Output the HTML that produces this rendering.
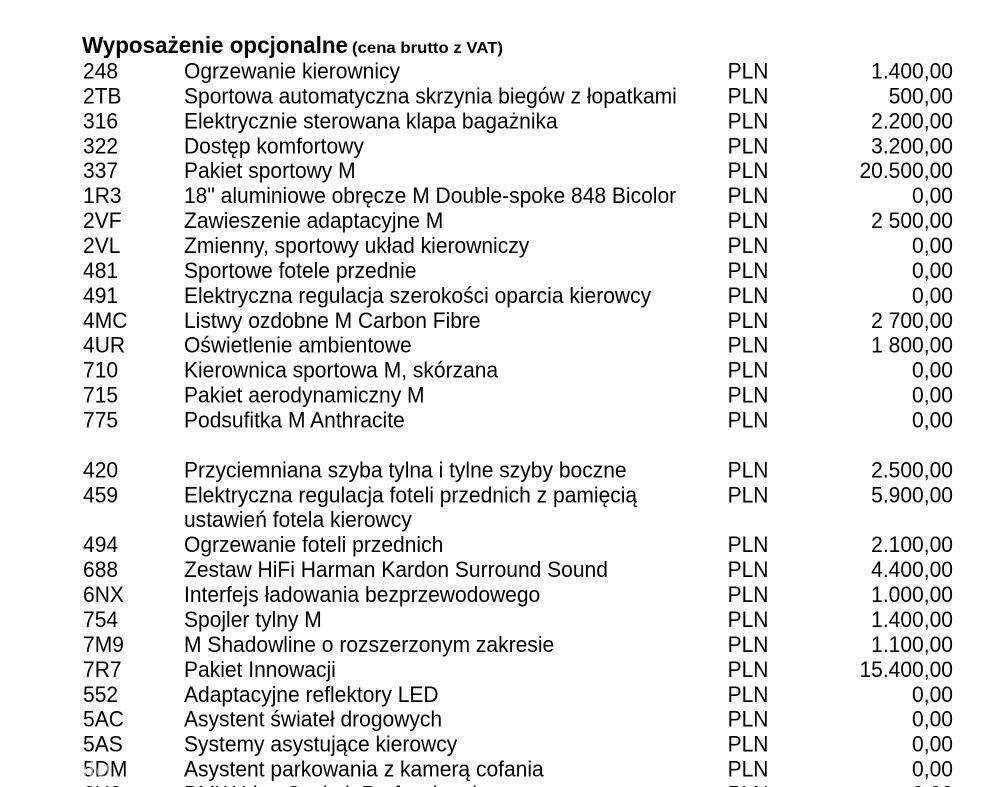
<!DOCTYPE html>
<html>
<head>
<meta charset="utf-8">
<style>
html,body{margin:0;padding:0;background:#fff;}
body{width:1000px;height:787px;overflow:hidden;}
svg{display:block;}
text{font-family:"Liberation Sans",Arial,sans-serif;fill:#000;}
.r{font-size:22.5px;}
.a{text-anchor:end;}
</style>
</head>
<body>
<svg width="1000" height="787" viewBox="0 0 1000 787" xmlns="http://www.w3.org/2000/svg">
<rect width="1000" height="787" fill="#fff"/>
<text x="82" y="53" font-size="23" font-weight="bold" textLength="266" lengthAdjust="spacingAndGlyphs">Wyposażenie opcjonalne</text>
<text x="352" y="53" font-size="16" font-weight="bold" textLength="151" lengthAdjust="spacingAndGlyphs">(cena brutto z VAT)</text>
<g transform="scale(0.934,1)" class="r">
<text x="88.9" y="78.5">248</text><text x="197.0" y="78.5">Ogrzewanie kierownicy</text><text x="779.0" y="78.5">PLN</text><text class="a" x="1020.3" y="78.5">1.400,00</text>
<text x="88.9" y="103.4">2TB</text><text x="197.0" y="103.4">Sportowa automatyczna skrzynia biegów z łopatkami</text><text x="779.0" y="103.4">PLN</text><text class="a" x="1020.3" y="103.4">500,00</text>
<text x="88.9" y="128.4">316</text><text x="197.0" y="128.4">Elektrycznie sterowana klapa bagażnika</text><text x="779.0" y="128.4">PLN</text><text class="a" x="1020.3" y="128.4">2.200,00</text>
<text x="88.9" y="153.3">322</text><text x="197.0" y="153.3">Dostęp komfortowy</text><text x="779.0" y="153.3">PLN</text><text class="a" x="1020.3" y="153.3">3.200,00</text>
<text x="88.9" y="178.2">337</text><text x="197.0" y="178.2">Pakiet sportowy M</text><text x="779.0" y="178.2">PLN</text><text class="a" x="1020.3" y="178.2">20.500,00</text>
<text x="88.9" y="203.2">1R3</text><text x="197.0" y="203.2">18" aluminiowe obręcze M Double-spoke 848 Bicolor</text><text x="779.0" y="203.2">PLN</text><text class="a" x="1020.3" y="203.2">0,00</text>
<text x="88.9" y="228.1">2VF</text><text x="197.0" y="228.1">Zawieszenie adaptacyjne M</text><text x="779.0" y="228.1">PLN</text><text class="a" x="1020.3" y="228.1">2 500,00</text>
<text x="88.9" y="253.0">2VL</text><text x="197.0" y="253.0">Zmienny, sportowy układ kierowniczy</text><text x="779.0" y="253.0">PLN</text><text class="a" x="1020.3" y="253.0">0,00</text>
<text x="88.9" y="277.9">481</text><text x="197.0" y="277.9">Sportowe fotele przednie</text><text x="779.0" y="277.9">PLN</text><text class="a" x="1020.3" y="277.9">0,00</text>
<text x="88.9" y="302.9">491</text><text x="197.0" y="302.9">Elektryczna regulacja szerokości oparcia kierowcy</text><text x="779.0" y="302.9">PLN</text><text class="a" x="1020.3" y="302.9">0,00</text>
<text x="88.9" y="327.8">4MC</text><text x="197.0" y="327.8">Listwy ozdobne M Carbon Fibre</text><text x="779.0" y="327.8">PLN</text><text class="a" x="1020.3" y="327.8">2 700,00</text>
<text x="88.9" y="352.7">4UR</text><text x="197.0" y="352.7">Oświetlenie ambientowe</text><text x="779.0" y="352.7">PLN</text><text class="a" x="1020.3" y="352.7">1 800,00</text>
<text x="88.9" y="377.7">710</text><text x="197.0" y="377.7">Kierownica sportowa M, skórzana</text><text x="779.0" y="377.7">PLN</text><text class="a" x="1020.3" y="377.7">0,00</text>
<text x="88.9" y="402.6">715</text><text x="197.0" y="402.6">Pakiet aerodynamiczny M</text><text x="779.0" y="402.6">PLN</text><text class="a" x="1020.3" y="402.6">0,00</text>
<text x="88.9" y="427.5">775</text><text x="197.0" y="427.5">Podsufitka M Anthracite</text><text x="779.0" y="427.5">PLN</text><text class="a" x="1020.3" y="427.5">0,00</text>

<text x="88.9" y="477.4">420</text><text x="197.0" y="477.4">Przyciemniana szyba tylna i tylne szyby boczne</text><text x="779.0" y="477.4">PLN</text><text class="a" x="1020.3" y="477.4">2.500,00</text>
<text x="88.9" y="502.3">459</text><text x="197.0" y="502.3">Elektryczna regulacja foteli przednich z pamięcią</text><text x="779.0" y="502.3">PLN</text><text class="a" x="1020.3" y="502.3">5.900,00</text>
<text x="197.0" y="527.2">ustawień fotela kierowcy</text>
<text x="88.9" y="552.2">494</text><text x="197.0" y="552.2">Ogrzewanie foteli przednich</text><text x="779.0" y="552.2">PLN</text><text class="a" x="1020.3" y="552.2">2.100,00</text>
<text x="88.9" y="577.1">688</text><text x="197.0" y="577.1">Zestaw HiFi Harman Kardon Surround Sound</text><text x="779.0" y="577.1">PLN</text><text class="a" x="1020.3" y="577.1">4.400,00</text>
<text x="88.9" y="602.0">6NX</text><text x="197.0" y="602.0">Interfejs ładowania bezprzewodowego</text><text x="779.0" y="602.0">PLN</text><text class="a" x="1020.3" y="602.0">1.000,00</text>
<text x="88.9" y="627.0">754</text><text x="197.0" y="627.0">Spojler tylny M</text><text x="779.0" y="627.0">PLN</text><text class="a" x="1020.3" y="627.0">1.400,00</text>
<text x="88.9" y="651.9">7M9</text><text x="197.0" y="651.9">M Shadowline o rozszerzonym zakresie</text><text x="779.0" y="651.9">PLN</text><text class="a" x="1020.3" y="651.9">1.100,00</text>
<text x="88.9" y="676.8">7R7</text><text x="197.0" y="676.8">Pakiet Innowacji</text><text x="779.0" y="676.8">PLN</text><text class="a" x="1020.3" y="676.8">15.400,00</text>
<text x="88.9" y="701.8">552</text><text x="197.0" y="701.8">Adaptacyjne reflektory LED</text><text x="779.0" y="701.8">PLN</text><text class="a" x="1020.3" y="701.8">0,00</text>
<text x="88.9" y="726.7">5AC</text><text x="197.0" y="726.7">Asystent świateł drogowych</text><text x="779.0" y="726.7">PLN</text><text class="a" x="1020.3" y="726.7">0,00</text>
<text x="88.9" y="751.6">5AS</text><text x="197.0" y="751.6">Systemy asystujące kierowcy</text><text x="779.0" y="751.6">PLN</text><text class="a" x="1020.3" y="751.6">0,00</text>
<text x="88.9" y="776.5">5DM</text><text x="197.0" y="776.5">Asystent parkowania z kamerą cofania</text><text x="779.0" y="776.5">PLN</text><text class="a" x="1020.3" y="776.5">0,00</text>
<text x="88.9" y="801.5">6U3</text><text x="197.0" y="801.5">BMW Live Cockpit Professional</text><text x="779.0" y="801.5">PLN</text><text class="a" x="1020.3" y="801.5">0,00</text>
</g>
<text x="8" y="778" font-size="26" style="fill:#ffffff;opacity:0.55" font-weight="bold">otomoto</text>
</svg>
</body>
</html>
